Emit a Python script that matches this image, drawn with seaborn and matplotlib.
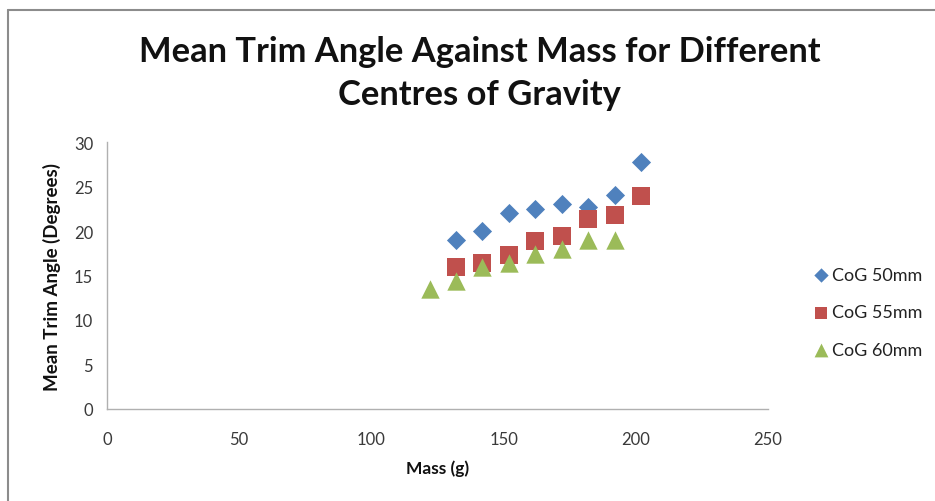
import matplotlib
matplotlib.use("Agg")
import matplotlib.pyplot as plt
from matplotlib.lines import Line2D
import pandas as pd
import seaborn as sns

# Mass (g) and mean trim angle (degrees) for each centre of gravity
mass_50 = [132, 142, 152, 162, 172, 182, 192, 202]
angle_50 = [19.0, 20.0, 22.0, 22.5, 23.0, 22.7, 24.0, 27.8]

mass_55 = [132, 142, 152, 162, 172, 182, 192, 202]
angle_55 = [16.0, 16.4, 17.3, 18.9, 19.4, 21.4, 21.8, 23.9]

mass_60 = [122, 132, 142, 152, 162, 172, 182, 192]
angle_60 = [13.5, 14.4, 16.0, 16.4, 17.4, 18.0, 19.0, 19.0]

series_names = ["CoG 50mm", "CoG 55mm", "CoG 60mm"]
x_ticks = [0, 50, 100, 150, 200, 250]
y_ticks = [0, 5, 10, 15, 20, 25, 30]

frames = []
for name, xs, ys in zip(series_names, [mass_50, mass_55, mass_60],
                        [angle_50, angle_55, angle_60]):
    frames.append(pd.DataFrame({"Mass": xs, "Angle": ys, "Series": name}))
df = pd.concat(frames, ignore_index=True)

sns.set_theme(style="white")
plt.rcParams["font.family"] = ["Lato", "DejaVu Sans"]

colors = {"CoG 50mm": "#4F81BD", "CoG 55mm": "#C0504D", "CoG 60mm": "#9BBB59"}
markers = {"CoG 50mm": "D", "CoG 55mm": "s", "CoG 60mm": "^"}
sizes = {"CoG 50mm": 95, "CoG 55mm": 150, "CoG 60mm": 175}

fig = plt.figure(figsize=(9.35, 5.02), dpi=100)
ax = fig.add_axes([0.1144, 0.1833, 0.7070, 0.5318])

for name in series_names:
    sub = df[df["Series"] == name]
    sns.scatterplot(data=sub, x="Mass", y="Angle", ax=ax, color=colors[name],
                    marker=markers[name], s=sizes[name], linewidth=0,
                    label=name, zorder=3)

ax.set_xlim(0, 250)
ax.set_ylim(0, 30)
ax.set_xticks(x_ticks)
ax.set_yticks(y_ticks)
ax.tick_params(axis="both", length=0, labelsize=12, colors="#3a3a3a")
ax.tick_params(axis="x", pad=16)
ax.tick_params(axis="y", pad=10)

for side in ["top", "right"]:
    ax.spines[side].set_visible(False)
for side in ["left", "bottom"]:
    ax.spines[side].set_color("#b0b0b0")
    ax.spines[side].set_linewidth(1.0)
ax.grid(False)

ax.set_xlabel("Mass (g)", fontsize=12.5, fontweight="bold", color="#111111", labelpad=9)
ax.set_ylabel("Mean Trim Angle (Degrees)", fontsize=13.5, fontweight="bold",
              color="#111111", labelpad=9)

fig.text(0.513, 0.853, "Mean Trim Angle Against Mass for Different\nCentres of Gravity",
         ha="center", va="center", fontsize=24.8, fontweight="bold", color="#111111",
         linespacing=1.42)

leg = ax.legend(loc="center left", bbox_to_anchor=(0.86, 0.376),
                bbox_transform=fig.transFigure, frameon=False, fontsize=13,
                labelspacing=1.2, handletextpad=0.05, handlelength=1.1,
                borderaxespad=0, markerscale=0.75)
for t in leg.get_texts():
    t.set_color("#222222")

# Outer chart border
fig.add_artist(Line2D([8 / 935, 1.0], [1 - 11 / 502, 1 - 11 / 502],
                      transform=fig.transFigure, color="#8c8c8c", linewidth=1.5))
fig.add_artist(Line2D([8 / 935, 8 / 935], [0.0, 1 - 11 / 502],
                      transform=fig.transFigure, color="#8c8c8c", linewidth=1.5))

fig.savefig("out.png", dpi=100, facecolor="white")
